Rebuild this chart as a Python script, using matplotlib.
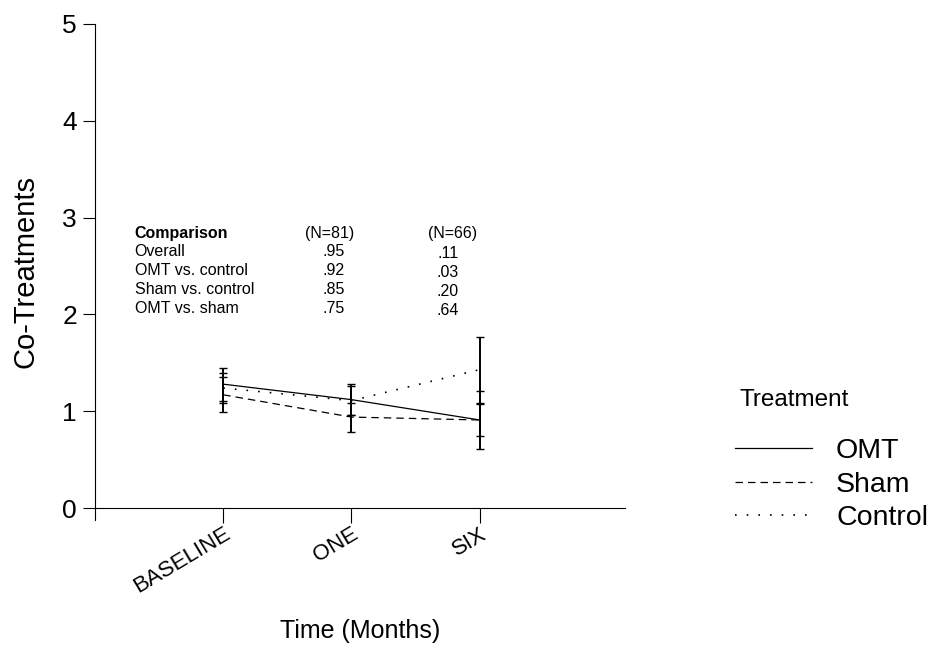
import matplotlib.pyplot as plt

plt.rcParams['font.family'] = ['Liberation Sans', 'DejaVu Sans']

# Data
times = ["BASELINE", "ONE", "SIX"]
omt = [1.28, 1.12, 0.91]
omt_err = [0.17, 0.16, 0.30]
sham = [1.17, 0.94, 0.91]
sham_err = [0.18, 0.15, 0.17]
control = [1.24, 1.11, 1.43]
control_err = [0.15, 0.15, 0.34]

# inset p-value table
comparisons = ["Overall", "OMT vs. control", "Sham vs. control", "OMT vs. sham"]
p_n81 = [".95", ".92", ".85", ".75"]
p_n66 = [".11", ".03", ".20", ".64"]

fig = plt.figure(figsize=(9.35, 6.48), dpi=100)
ax = fig.add_axes([0.1016, 0.198, 0.5664, 0.765])

x = [1, 2, 3]
ax.errorbar(x, omt, yerr=omt_err, color="black", lw=0.9, ls="-",
            elinewidth=1.4, capsize=3, capthick=1, label="OMT")
ax.errorbar(x, sham, yerr=sham_err, color="black", lw=0.9, ls=(0, (6, 4)),
            elinewidth=1.4, capsize=3, capthick=1, label="Sham")
ax.errorbar(x, control, yerr=control_err, color="black", lw=1.2, ls=(0, (1, 6)),
            elinewidth=1.4, capsize=3, capthick=1, label="Control")

ax.set_xlim(0, 4.13)
ax.set_ylim(-0.12, 5)
ax.spines["top"].set_visible(False)
ax.spines["right"].set_visible(False)
ax.spines["bottom"].set_position(("data", 0))
ax.spines["left"].set_bounds(-0.12, 5)

ax.set_yticks([0, 1, 2, 3, 4, 5])
ax.set_xticks(x)
ax.set_xticklabels(times, rotation=31, ha="right", rotation_mode="anchor")
ax.tick_params(axis="y", labelsize=19, length=9, width=0.8, pad=4)
ax.tick_params(axis="x", labelsize=16, length=11, width=0.8, pad=0)

ax.set_ylabel("Co-Treatments", fontsize=21, labelpad=16)
ax.set_xlabel("Time (Months)", fontsize=18)
ax.xaxis.set_label_coords(0.5, -0.20)

# table text
tx0 = 0.075
tcol1 = 0.443
tcol2 = 0.675
ty0 = 0.578
dy = 0.0378
fs = 11.5
ax.text(tx0, ty0, "Comparison", transform=ax.transAxes, fontsize=fs,
        fontweight="bold", va="center")
ax.text(tcol1, ty0, "(N=81)", transform=ax.transAxes, fontsize=fs,
        ha="center", va="center")
ax.text(tcol2, ty0, "(N=66)", transform=ax.transAxes, fontsize=fs,
        ha="center", va="center")
for i, name in enumerate(comparisons):
    yy = ty0 - (i + 1) * dy
    ax.text(tx0, yy, name, transform=ax.transAxes, fontsize=fs, va="center")
    ax.text(tcol1 + 0.008, yy, p_n81[i], transform=ax.transAxes, fontsize=fs,
            ha="center", va="center")
    ax.text(tcol2 - 0.009, yy - 0.004, p_n66[i], transform=ax.transAxes,
            fontsize=fs, ha="center", va="center")

# legend
fig.text(740 / 935, 1 - 400 / 648, "Treatment", fontsize=17.5,
         ha="left", va="center")
handles, labels = ax.get_legend_handles_labels()
handles = [h[0] for h in handles]
leg = fig.legend(handles, labels, loc="upper left",
                 bbox_to_anchor=(735 / 935, 1 - 438 / 648),
                 frameon=False, fontsize=20.5, handlelength=2.7,
                 handletextpad=0.85, labelspacing=0.27, borderpad=0,
                 borderaxespad=0)

fig.savefig("out.png", dpi=100)
